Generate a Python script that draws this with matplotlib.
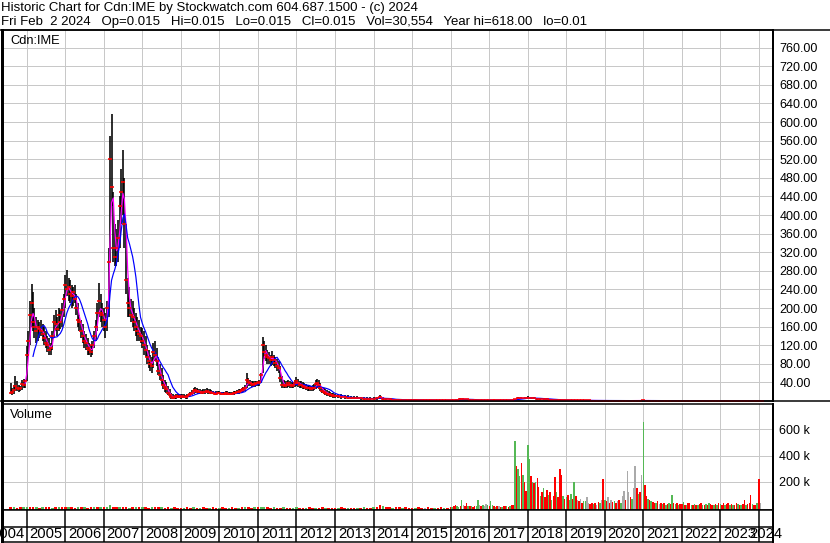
import matplotlib
matplotlib.use("Agg")
import matplotlib.pyplot as plt
from matplotlib.lines import Line2D
import numpy as np
import pandas as pd

plt.rcParams['font.family'] = ['Liberation Sans', 'DejaVu Sans']

W, H = 830, 543

title_line = "Historic Chart for Cdn:IME by Stockwatch.com 604.687.1500 - (c) 2024"
quote_line = ("Fri Feb  2 2024   Op=0.015   Hi=0.015   Lo=0.015   Cl=0.015   "
              "Vol=30,554   Year hi=618.00   lo=0.01")
symbol = "Cdn:IME"

# ---- price bars: half-monthly Aug 2004 - Dec 2012, monthly Jan 2013 - Feb 2024 ----
hi_semi = [
    # 2004 Aug-Dec
    38, 28, 34, 54, 42, 34, 32, 46, 48, 46,
    # 2005
    118, 150, 215, 252, 235, 200, 180, 175, 170, 175, 165, 160,
    150, 140, 135, 125, 150, 185, 195, 180, 200, 195, 210, 230,
    # 2006
    270, 282, 265, 260, 250, 245, 250, 230, 210, 185, 175, 165,
    150, 145, 135, 125, 120, 130, 150, 175, 210, 254, 230, 210,
    # 2007
    200, 190, 215, 330, 570, 618, 450, 380, 370, 390, 440, 500,
    539, 480, 380, 265, 245, 220, 215, 200, 190, 180, 175, 160,
    # 2008
    158, 150, 140, 120, 110, 100, 95, 125, 130, 115, 95, 80,
    70, 55, 45, 40, 32, 25, 18, 14, 12, 14, 15, 14,
    # 2009
    14, 15, 14, 13, 14, 16, 20, 24, 28, 30, 28, 26,
    25, 24, 26, 25, 27, 26, 25, 24, 22, 20, 21, 22,
    # 2010
    22, 20, 19, 20, 22, 21, 20, 19, 20, 21, 22, 24,
    25, 26, 28, 30, 35, 60, 50, 45, 43, 42, 42, 44,
    # 2011
    43, 45, 60, 138, 130, 120, 110, 105, 100, 108, 100, 95,
    90, 85, 75, 54, 45, 42, 42, 45, 42, 40, 40, 45,
    # 2012
    52, 48, 43, 42, 40, 38, 36, 35, 34, 33, 34, 36,
    45, 48, 45, 38, 30, 28, 26, 24, 22, 20, 18, 17,
]
lo_semi = [
    14, 12, 16, 22, 22, 20, 21, 24, 28, 28,
    42, 95, 120, 160, 150, 135, 125, 130, 135, 140, 130, 120,
    115, 105, 100, 100, 110, 135, 150, 140, 150, 155, 160, 180,
    200, 225, 215, 210, 200, 205, 210, 185, 160, 150, 135, 125,
    115, 110, 100, 100, 95, 100, 115, 130, 150, 180, 170, 160,
    150, 136, 150, 180, 300, 420, 300, 290, 290, 300, 330, 380,
    400, 330, 230, 180, 180, 170, 160, 150, 140, 130, 129, 125,
    115, 100, 95, 80, 70, 65, 60, 70, 85, 75, 55, 45,
    35, 25, 20, 18, 12, 8, 5, 4, 4, 5, 6, 6,
    5, 6, 6, 5, 5, 8, 10, 13, 16, 18, 18, 16,
    15, 15, 16, 16, 17, 16, 15, 15, 14, 12, 13, 14,
    14, 12, 12, 12, 14, 13, 12, 12, 12, 13, 14, 15,
    16, 17, 18, 20, 22, 28, 32, 32, 30, 30, 30, 32,
    32, 33, 38, 60, 90, 85, 80, 80, 75, 78, 75, 70,
    65, 60, 40, 28, 28, 28, 28, 30, 28, 28, 28, 30,
    32, 30, 28, 28, 26, 25, 24, 22, 22, 21, 22, 23,
    26, 28, 26, 22, 18, 14, 12, 11, 10, 9, 8, 7,
]
cl_semi = [
    18, 20, 24, 32, 28, 26, 27, 36, 34, 42,
    100, 130, 185, 210, 170, 160, 150, 160, 155, 150, 145, 135,
    125, 120, 110, 115, 140, 170, 165, 155, 185, 170, 195, 220,
    250, 240, 245, 230, 225, 235, 220, 200, 175, 170, 150, 140,
    130, 125, 115, 110, 105, 120, 140, 160, 190, 215, 190, 185,
    175, 160, 200, 300, 520, 460, 330, 310, 330, 350, 420, 450,
    470, 380, 260, 210, 200, 185, 180, 170, 160, 150, 145, 140,
    130, 120, 110, 95, 85, 80, 75, 105, 100, 85, 65, 55,
    45, 35, 30, 25, 18, 12, 8, 7, 8, 10, 10, 9,
    9, 10, 9, 8, 10, 12, 15, 18, 22, 24, 22, 20,
    19, 18, 20, 19, 21, 20, 19, 18, 17, 15, 16, 17,
    17, 15, 15, 16, 17, 16, 15, 15, 16, 17, 18, 19,
    20, 21, 23, 25, 28, 45, 40, 38, 36, 35, 36, 38,
    38, 40, 55, 120, 105, 100, 95, 92, 88, 95, 88, 82,
    75, 70, 50, 35, 35, 33, 35, 38, 34, 33, 34, 38,
    42, 38, 35, 34, 32, 30, 29, 28, 27, 26, 27, 28,
    36, 38, 34, 28, 22, 20, 18, 16, 14, 13, 12, 11,
]
hi_month = [
    16, 15, 14, 13, 12, 11, 10, 10, 9, 9, 8, 8,                      # 2013
    8, 9, 13, 9, 7, 6, 5, 5, 4.5, 4, 4, 4,                           # 2014
    3.5, 3.5, 3, 3, 3, 3, 3, 3, 2.5, 2.5, 2.5, 2.5,                  # 2015
    2.5, 2.5, 4, 6, 6, 5, 4, 3, 3, 3, 3, 3,                          # 2016
    3, 3, 3, 3, 3, 3, 3, 3, 5, 8, 9, 9,                              # 2017
    10, 9, 8, 7, 7, 6, 6, 5, 5, 4, 3.5, 3,                           # 2018
    3, 2.5, 2.5, 2.5, 2, 2, 2, 2, 2, 2, 2, 2,                        # 2019
    2, 2, 1.5, 1.5, 1.5, 1.5, 1.5, 1.5, 1.8, 1.5, 1.5, 1.8,          # 2020
    2, 1.8, 1.5, 1.5, 1.4, 1.3, 1.3, 1.2, 1.3, 1.2, 1.2, 1.1,        # 2021
    1, 1, 1, 0.9, 0.9, 0.8, 0.8, 0.8, 0.7, 0.7, 0.7, 0.6,            # 2022
    0.6, 0.6, 0.5, 0.5, 0.5, 0.5, 0.4, 0.4, 0.4, 0.4, 0.3, 0.3,      # 2023
    0.1, 0.05,                                                       # 2024
]
lo_month = [
    7, 6, 5, 5, 4, 4, 4, 4, 3, 3, 3, 3,
    3, 3, 4, 3, 2, 2, 2, 2, 1.5, 1.5, 1.5, 1.5,
    1.5, 1.5, 1.2, 1.2, 1.2, 1, 1, 1, 1, 1, 1, 1,
    1, 1, 1.5, 2.5, 2.5, 2, 1.5, 1.2, 1.2, 1.2, 1.2, 1.2,
    1.2, 1.2, 1.2, 1.2, 1.2, 1.2, 1.2, 1.2, 2, 3, 4, 4,
    4, 4, 3.5, 3, 3, 2.5, 2.5, 2, 2, 1.5, 1.2, 1,
    1, 0.8, 0.8, 0.8, 0.6, 0.6, 0.6, 0.6, 0.5, 0.5, 0.5, 0.5,
    0.5, 0.4, 0.3, 0.3, 0.3, 0.3, 0.3, 0.3, 0.4, 0.3, 0.3, 0.4,
    0.5, 0.4, 0.4, 0.3, 0.3, 0.3, 0.3, 0.3, 0.3, 0.3, 0.3, 0.2,
    0.2, 0.2, 0.2, 0.2, 0.2, 0.15, 0.15, 0.15, 0.1, 0.1, 0.1, 0.1,
    0.1, 0.1, 0.1, 0.08, 0.08, 0.05, 0.05, 0.05, 0.03, 0.03, 0.02, 0.02,
    0.01, 0.01,
]
cl_month = [
    11, 10, 9, 8, 7, 7, 6, 6, 6, 5, 5, 5,
    5, 6, 8, 5, 4, 3.5, 3, 3, 3, 2.5, 2.5, 2.5,
    2.5, 2.5, 2, 2, 2, 2, 2, 2, 1.8, 1.8, 1.8, 1.8,
    1.8, 1.8, 3, 4.5, 4, 3.5, 2.5, 2, 2, 2, 2, 2,
    2, 2, 2, 2, 2, 2, 2, 2, 4, 6, 6.5, 6,
    7, 6, 5.5, 5, 5, 4, 4, 3, 3, 2.5, 2, 1.8,
    1.8, 1.5, 1.5, 1.5, 1.2, 1.2, 1.2, 1.2, 1, 1, 1, 1,
    1, 0.8, 0.6, 0.6, 0.7, 0.7, 0.7, 0.8, 1, 0.8, 0.7, 1,
    1.2, 1, 0.8, 0.8, 0.7, 0.7, 0.6, 0.6, 0.7, 0.6, 0.6, 0.5,
    0.5, 0.5, 0.5, 0.4, 0.4, 0.4, 0.4, 0.35, 0.3, 0.3, 0.3, 0.3,
    0.3, 0.3, 0.25, 0.2, 0.2, 0.15, 0.15, 0.12, 0.1, 0.08, 0.06, 0.05,
    0.02, 0.015,
]

# ---- volume (thousands of shares): monthly 2004-2015, half-monthly 2016-2024 ----
vol_month = [
    4, 5, 3, 4, 6,
    8, 5, 4, 5, 3, 4, 5, 4, 3, 5, 4, 5,
    5, 4, 5, 3, 4, 4, 5, 3, 4, 4, 5, 4,
    4, 6, 22, 5, 6, 4, 5, 4, 3, 4, 5, 4,
    4, 5, 3, 4, 6, 5, 4, 3, 4, 3, 4, 3,
    3, 3, 4, 3, 5, 3, 3, 4, 3, 3, 4, 3,
    3, 4, 3, 3, 4, 3, 3, 4, 5, 4, 3, 4,
    5, 8, 6, 4, 3, 4, 3, 3, 4, 3, 3, 3,
    4, 3, 3, 3, 4, 3, 3, 3, 4, 3, 3, 3,
    3, 3, 4, 3, 3, 3, 3, 3, 3, 4, 3, 3,
    4, 5, 25, 14, 6, 4, 3, 5, 4, 3, 4, 3,
    3, 3, 4, 3, 3, 4, 3, 3, 3, 4, 3, 3,
]
vol_month_dir = (
    "rgrrg" "grrgrgrrgrgr" "rgrrgrgrrgrg" "rggrrgrrgrgr" "grrgrrgrrgrr"
    "rgrrgrgrrgrr" "grrgrrgrgrrg" "rggrrgrrgrrg" "grrgrrgrrgrr" "rgrrgrrgrgrr"
    "grrgrrgrrgrr" "rgrrnrrgrrgr"
)
vol_semi = [
    8, 10, 12, 25, 15, 10, 12, 58, 20, 15, 35, 18, 12, 15, 10, 12, 18, 58, 20, 15, 22, 18, 30, 20,
    15, 55, 20, 12, 10, 15, 12, 10, 8, 12, 15, 18, 10, 12, 20, 25, 511, 320, 300, 240, 345, 255, 200, 130,
    480, 370, 240, 200, 190, 195, 230, 160, 90, 120, 150, 80, 140, 100, 120, 60, 90, 235, 120, 80, 300, 250, 90, 70,
    80, 100, 60, 105, 70, 200, 90, 60, 50, 70, 40, 50, 55, 80, 40, 30, 35, 30, 40, 25, 45, 40, 60, 222,
    60, 50, 80, 40, 60, 45, 50, 40, 55, 60, 40, 90, 130, 60, 280, 120, 80, 70, 150, 320, 150, 110, 120, 250,
    652, 178, 90, 70, 60, 50, 45, 40, 35, 50, 30, 40, 30, 35, 25, 30, 40, 30, 100, 40, 30, 35, 25, 30,
    30, 45, 25, 20, 35, 40, 25, 20, 30, 25, 20, 30, 35, 25, 20, 30, 25, 40, 30, 25, 20, 30, 25, 35,
    30, 25, 35, 20, 30, 40, 25, 30, 20, 25, 35, 30, 25, 20, 30, 60, 25, 30, 40, 100, 30, 25, 20, 35,
    222, 40,
]
vol_semi_dir = (
    "rgrrggrgnrrgrgrrggnrgnng"
    "rggrgrnrgrrgrgrrgrggrgrr"
    "ggrgrgrrgrgrrgrgrrgrrrgr"
    "grggrgrnrnrggnnrrgrnrgnr"
    "grnrnrgrnrgnnrnnrgnnrgrn"
    "grrgrgrrgrnrgrgrgrgrgrgr"
    "rgrgrrgrgrgrrgrgrgrrgrgr"
    "grrgrrgrgrrgrgrrgrrrgrrg"
    "rn"
)

vol_colors = {"g": "#55b855", "r": "#ff0000", "n": "#aaaaaa"}

price_dates = pd.date_range("2004-08-01", "2012-12-16", freq="SMS").append(
    pd.date_range("2013-01-01", "2024-02-01", freq="MS"))
hi = np.array(hi_semi + hi_month, dtype=float)
lo = np.array(lo_semi + lo_month, dtype=float)
cl = np.array(cl_semi + cl_month, dtype=float)

close = pd.Series(cl, index=price_dates)
ma_fast = close.rolling("35D").mean()
ma_slow = close.rolling("140D").mean()
ma_fast[ma_fast.index < "2004-12-10"] = np.nan
ma_slow[ma_slow.index < "2005-02-20"] = np.nan

vm_dates = pd.date_range("2004-08-01", "2015-12-01", freq="MS")
vs_dates = pd.date_range("2016-01-01", "2024-01-16", freq="SMS")

x0, x1 = pd.Timestamp("2004-05-11"), pd.Timestamp("2024-05-13")
years = list(range(2004, 2025))
year_starts = [pd.Timestamp(f"{y}-01-01") for y in years]

grid_c = "#c8c8c8"
PX = 0.72  # one pixel in points


def fx(px):
    return px / W


def fy(py):
    return 1 - py / H


fig = plt.figure(figsize=(W / 100, H / 100), dpi=100)

ax_p = fig.add_axes([fx(2), fy(401), fx(773) - fx(2), fy(30) - fy(401)])
ax_v = fig.add_axes([fx(2), fy(509.5), fx(773) - fx(2), fy(403.5) - fy(509.5)])
ax_x = fig.add_axes([fx(2), fy(541.5), fx(773) - fx(2), fy(509.5) - fy(541.5)])

for ax in (ax_p, ax_v, ax_x):
    ax.set_xlim(x0, x1)
    ax.set_xticks([])
    for s in ax.spines.values():
        s.set_color("black")
        s.set_linewidth(1.5 * PX)
    ax.spines["left"].set_linewidth(3 * PX)
    ax.spines["right"].set_linewidth(2 * PX)

# price panel
ax_p.set_ylim(0, 798)
for d in year_starts[1:]:
    ax_p.axvline(d, color=grid_c, lw=PX, zorder=0)
    ax_v.axvline(d, color=grid_c, lw=PX, zorder=0)
for v in range(40, 761, 40):
    ax_p.axhline(v, color=grid_c, lw=PX, zorder=0)

ax_p.vlines(price_dates, lo, hi, color="black", lw=1.6 * PX, zorder=2)
ax_p.plot(ma_fast.index, ma_fast.values, color="#ff00ff", lw=1.2 * PX, zorder=3)
ax_p.plot(ma_slow.index, ma_slow.values, color="#0000ff", lw=1.2 * PX, zorder=4)
ax_p.plot(price_dates, cl, "_", color="red", ms=3.2, mew=1.6 * PX, zorder=5)

ax_p.yaxis.tick_right()
ax_p.set_yticks(range(40, 761, 40))
ax_p.set_yticklabels([f"{v:.2f}" for v in range(40, 761, 40)], fontsize=9)
ax_p.tick_params(axis="y", length=0, pad=4.5)
ax_p.text(8 / 771, 1 - 11 / 371, symbol, transform=ax_p.transAxes, fontsize=9.3,
          va="center", ha="left")

# volume panel
ax_v.set_ylim(-12000, 797000)
for v in (200000, 400000, 600000):
    ax_v.axhline(v, color=grid_c, lw=PX, zorder=0)
ax_v.bar(vm_dates, np.array(vol_month) * 1000 + 12000, bottom=-12000, width=24,
         color=[vol_colors[c] for c in vol_month_dir], linewidth=0, zorder=2)
ax_v.bar(vs_dates, np.array(vol_semi) * 1000 + 12000, bottom=-12000, width=14,
         color=[vol_colors[c] for c in vol_semi_dir], linewidth=0, zorder=2)
ax_v.yaxis.tick_right()
ax_v.set_yticks([200000, 400000, 600000])
ax_v.set_yticklabels(["200 k", "400 k", "600 k"], fontsize=9)
ax_v.tick_params(axis="y", length=0, pad=4.5)
ax_v.text(8 / 771, 1 - 11 / 106, "Volume", transform=ax_v.transAxes, fontsize=9.3,
          va="center", ha="left")

# date strip
ax_x.set_ylim(0, 1)
ax_x.set_yticks([])
ax_x.axhline((541.5 - 527) / 32, color="black", lw=1.5 * PX)
for d in year_starts[1:]:
    ax_x.axvline(d, color="black", lw=1.5 * PX)
for i, y in enumerate(years):
    a = year_starts[i]
    b = year_starts[i + 1] if i + 1 < len(years) else x1
    ax_x.text(a + (b - a) / 2, (541.5 - 534.5) / 32, str(y), fontsize=10.6,
              ha="center", va="center", clip_on=False)

# header and frame lines
fig.text(fx(1), fy(7.5), title_line, fontsize=9.5, va="center", ha="left")
fig.text(fx(1), fy(22), quote_line, fontsize=9.5, va="center", ha="left")
fig.add_artist(Line2D([0, 1], [fy(30), fy(30)], color="black", lw=1.5 * PX))
fig.add_artist(Line2D([0, 1], [fy(400.5), fy(400.5)], color="black", lw=1.5 * PX))

fig.savefig("out.png", dpi=100)
